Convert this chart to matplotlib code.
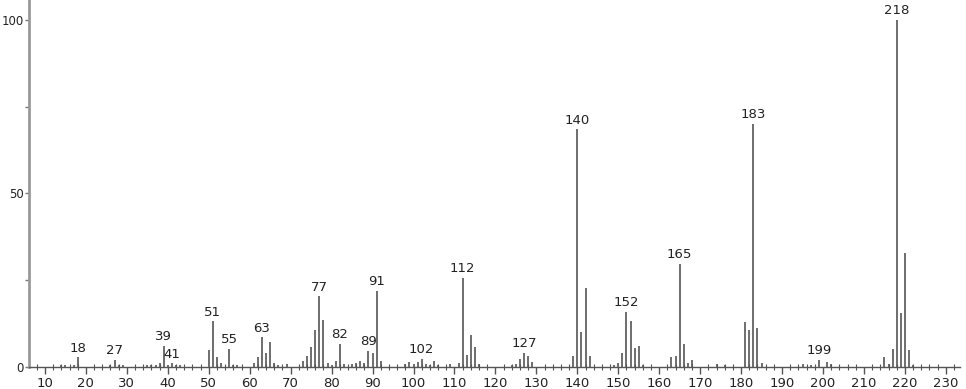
import numpy as np
import matplotlib
matplotlib.use("Agg")
import matplotlib.pyplot as plt
from matplotlib.ticker import MultipleLocator

# m/z and relative intensity
mz = [14, 15, 17, 18, 26, 27, 28, 29, 35, 36, 37, 38, 39, 40, 41, 42, 43,
      50, 51, 52, 53, 55, 56, 57, 61, 62, 63, 64, 65, 66, 67, 69,
      73, 74, 75, 76, 77, 78, 79, 80, 81, 82, 83, 85, 86, 87, 88, 89, 90, 91, 92,
      98, 99, 100, 101, 102, 103, 104, 105, 106, 109, 111, 112, 113, 114, 115, 116,
      124, 125, 126, 127, 128, 129, 139, 140, 141, 142, 143,
      149, 150, 151, 152, 153, 154, 155, 156, 163, 164, 165, 166, 167, 168,
      174, 176, 181, 182, 183, 184, 185, 195, 197, 199, 201, 202,
      215, 216, 217, 218, 219, 220, 221, 222]
intensity = [0.5, 0.5, 0.5, 2.7, 0.5, 2.0, 0.6, 0.5, 0.4, 0.5, 0.6, 1.2, 6.1, 0.6, 1.0, 0.6, 0.4,
             4.9, 13.1, 2.7, 1.0, 5.1, 0.6, 0.4, 1.0, 2.7, 8.5, 4.1, 7.3, 1.0, 0.5, 0.8,
             1.7, 3.0, 5.6, 10.7, 20.3, 13.5, 1.0, 0.6, 1.7, 6.6, 0.8, 0.8, 1.0, 1.7, 1.1, 4.6, 3.9, 21.9, 1.7,
             0.8, 1.5, 0.8, 1.5, 2.4, 0.8, 0.5, 1.7, 0.5, 0.8, 1.2, 25.7, 3.5, 9.2, 5.6, 0.8,
             0.5, 0.7, 2.2, 4.1, 3.2, 1.5, 3.0, 68.5, 10.0, 22.7, 3.0,
             0.5, 1.0, 4.1, 15.9, 13.1, 5.4, 6.1, 0.6, 2.7, 3.2, 29.6, 6.5, 1.0, 2.0,
             0.8, 0.6, 13.0, 10.7, 70.0, 11.2, 1.0, 0.8, 0.5, 2.0, 1.5, 0.7,
             2.9, 0.9, 5.2, 100.0, 15.6, 32.9, 4.9, 0.5]

labeled = [18, 27, 39, 41, 51, 55, 63, 77, 82, 89, 91, 102, 112, 127,
           140, 152, 165, 183, 199, 218]

fig = plt.figure(figsize=(9.66, 3.89), dpi=100)
ax = fig.add_axes([0.030, 0.057, 0.964, 0.943])

ax.vlines(mz, 0, intensity, color="#555555", linewidth=1.2)

lookup = dict(zip(mz, intensity))
for m in labeled:
    ax.annotate(str(m), (m, lookup[m]), xytext=(0, 2), textcoords="offset points",
                ha="center", va="bottom", fontsize=9.5, color="#222222")

ax.set_xlim(6.1, 233.5)
ax.set_ylim(0, 105.8)

ax.xaxis.set_major_locator(MultipleLocator(10))
ax.xaxis.set_minor_locator(MultipleLocator(2))
ax.yaxis.set_major_locator(MultipleLocator(50))
ax.yaxis.set_minor_locator(MultipleLocator(25))

ax.tick_params(axis="x", which="major", direction="out", length=5, width=1,
               color="#555555", labelsize=9.5, labelcolor="#222222", pad=2)
ax.tick_params(axis="x", which="minor", direction="inout", length=4, width=0.8,
               color="#555555")
ax.tick_params(axis="y", which="major", direction="out", length=3, width=1,
               color="#777777", labelsize=8.5, labelcolor="#222222", pad=0.5)
ax.tick_params(axis="y", which="minor", direction="out", length=3, width=1,
               color="#777777")

for s in ["top", "right"]:
    ax.spines[s].set_visible(False)
ax.spines["left"].set_color("#999999")
ax.spines["left"].set_linewidth(2)
ax.spines["bottom"].set_color("#555555")
ax.spines["bottom"].set_linewidth(1)

fig.savefig("out.png", dpi=100)
